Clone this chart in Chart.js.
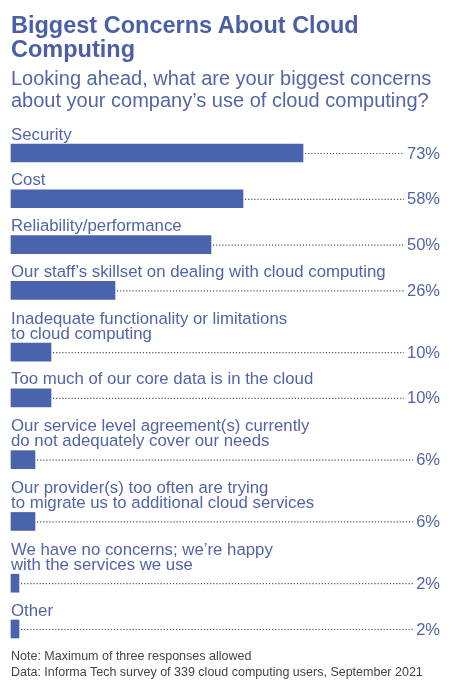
<!DOCTYPE html>
<html>
<head>
<meta charset="utf-8">
<script src="https://cdn.jsdelivr.net/npm/chart.js@4"></script>
<style>
  body { margin: 0; background: #fff; font-family: "Liberation Sans", Arial, sans-serif; }
  #wrap { position: relative; width: 452px; height: 680px; }
  #chart { position: absolute; left: 0; top: 0; }
  .title { position: absolute; left: 11px; top: 12.5px; font-size: 23.5px; font-weight: bold; line-height: 24px; color: #4b5fa6; white-space: nowrap; }
  .sub { position: absolute; left: 11px; top: 67px; font-size: 20px; line-height: 22px; color: #5566a8; white-space: nowrap; }
  .note { position: absolute; left: 11px; top: 648px; font-size: 12.5px; line-height: 16px; color: #444; white-space: nowrap; }
</style>
</head>
<body>
<div id="wrap">
  <canvas id="chart" width="452" height="680"></canvas>
  <div class="title">Biggest Concerns About Cloud<br>Computing</div>
  <div class="sub">Looking ahead, what are your biggest concerns<br>about your company’s use of cloud computing?</div>
  <div class="note">Note: Maximum of three responses allowed<br>Data: Informa Tech survey of 339 cloud computing users, September 2021</div>
</div>
<script>
let categories = [
    ['Security'],
    ['Cost'],
    ['Reliability/performance'],
    ['Our staff’s skillset on dealing with cloud computing'],
    ['Inadequate functionality or limitations', 'to cloud computing'],
    ['Too much of our core data is in the cloud'],
    ['Our service level agreement(s) currently', 'do not adequately cover our needs'],
    ['Our provider(s) too often are trying', 'to migrate us to additional cloud services'],
    ['We have no concerns; we’re happy', 'with the services we use'],
    ['Other']
];
let values = [73, 58, 50, 26, 10, 10, 6, 6, 2, 2];

// row positions follow the number of label lines
let rowPos = [];
let acc = 0;
categories.forEach((c, i) => {
    if (i > 0) acc += 45.8 + 16 * (c.length - 1);
    rowPos.push(acc);
});

let barColor = '#4a63ad';
let textColor = '#5264a8';

let labelPlugin = {
    id: 'rowLabels',
    afterDatasetsDraw(chart) {
        let ctx = chart.ctx;
        let meta = chart.getDatasetMeta(0);
        let xs = chart.scales.x;
        ctx.save();
        meta.data.forEach((bar, i) => {
            let top = bar.y - 9;
            // category label above bar
            ctx.fillStyle = textColor;
            ctx.font = '16.8px "Liberation Sans", Arial, sans-serif';
            ctx.textAlign = 'left';
            ctx.textBaseline = 'alphabetic';
            let lines = categories[i];
            lines.forEach((ln, k) => {
                ctx.fillText(ln, xs.left, top - 4.5 - (lines.length - 1 - k) * 15);
            });
            // value on the right
            let txt = values[i] + '%';
            ctx.font = '16.5px "Liberation Sans", Arial, sans-serif';
            ctx.textAlign = 'right';
            ctx.textBaseline = 'middle';
            let right = 440;
            ctx.fillText(txt, right, bar.y + 1);
            let tw = ctx.measureText(txt).width;
            // dotted leader
            ctx.strokeStyle = '#555';
            ctx.lineWidth = 1.2;
            ctx.setLineDash([1.2, 1.9]);
            ctx.beginPath();
            ctx.moveTo(bar.x + 2, bar.y + 0.5);
            ctx.lineTo(right - tw - 3, bar.y + 0.5);
            ctx.stroke();
        });
        ctx.restore();
    }
};

let config = {
    type: 'bar',
    data: {
        datasets: [{
            data: values.map((v, i) => ({ x: v, y: rowPos[i] })),
            backgroundColor: barColor,
            borderWidth: 0,
            barThickness: 18,
            clip: false
        }]
    },
    options: {
        indexAxis: 'y',
        responsive: false,
        animation: false,
        layout: { padding: { left: 11, right: 41, top: 153, bottom: 51 } },
        plugins: { legend: { display: false }, tooltip: { enabled: false } },
        scales: {
            x: { type: 'linear', min: 0, max: 100, display: false },
            y: { type: 'linear', min: 0, max: rowPos[rowPos.length - 1], reverse: true, offset: false, display: false }
        }
    },
    plugins: [labelPlugin]
};

let chart = new Chart(document.getElementById('chart').getContext('2d'), config);
</script>
</body>
</html>
